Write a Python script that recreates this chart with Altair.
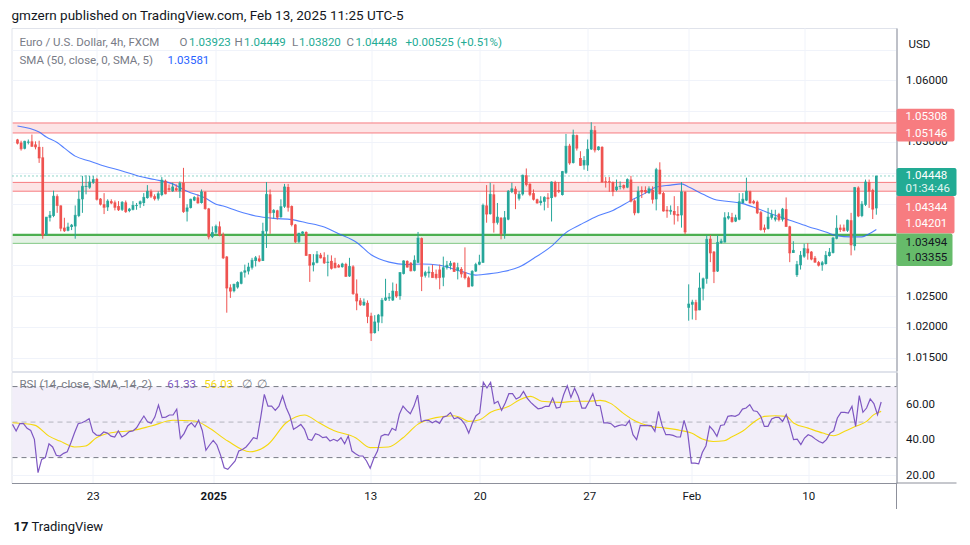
import altair as alt
import pandas as pd

# ---------------- data (EUR/USD 4h candles) ----------------
opens = [1.0504, 1.0499, 1.0489, 1.0499, 1.0501, 1.0496, 1.0492, 1.0475, 1.0349, 1.0377,
         1.0380, 1.0412, 1.0397, 1.0361, 1.0356, 1.0362, 1.0363, 1.0380, 1.0407, 1.0427,
         1.0426, 1.0434, 1.0440, 1.0408, 1.0399, 1.0394, 1.0404, 1.0402, 1.0396, 1.0390,
         1.0402, 1.0388, 1.0390, 1.0396, 1.0399, 1.0401, 1.0409, 1.0420, 1.0412, 1.0408,
         1.0414, 1.0437, 1.0425, 1.0420, 1.0425, 1.0420, 1.0434, 1.0387, 1.0393, 1.0405,
         1.0410, 1.0401, 1.0419, 1.0392, 1.0346, 1.0353, 1.0363, 1.0350, 1.0314, 1.0264,
         1.0258, 1.0264, 1.0270, 1.0288, 1.0290, 1.0296, 1.0307, 1.0311, 1.0307, 1.0355,
         1.0415, 1.0385, 1.0389, 1.0378, 1.0395, 1.0427, 1.0396, 1.0366, 1.0338, 1.0351,
         1.0354, 1.0318, 1.0300, 1.0304, 1.0317, 1.0313, 1.0304, 1.0307, 1.0304, 1.0300,
         1.0297, 1.0302, 1.0282, 1.0298, 1.0254, 1.0243, 1.0235, 1.0239, 1.0218, 1.0190,
         1.0207, 1.0217, 1.0243, 1.0246, 1.0243, 1.0258, 1.0250, 1.0286, 1.0307, 1.0304,
         1.0291, 1.0304, 1.0344, 1.0283, 1.0287, 1.0289, 1.0286, 1.0293, 1.0280, 1.0296,
         1.0299, 1.0304, 1.0291, 1.0294, 1.0289, 1.0280, 1.0266, 1.0290, 1.0301, 1.0304,
         1.0397, 1.0383, 1.0415, 1.0369, 1.0377, 1.0351, 1.0374, 1.0419, 1.0424, 1.0408,
         1.0415, 1.0446, 1.0432, 1.0417, 1.0407, 1.0401, 1.0403, 1.0410, 1.0409, 1.0435,
         1.0422, 1.0414, 1.0450, 1.0494, 1.0466, 1.0511, 1.0474, 1.0462, 1.0462, 1.0488,
         1.0519, 1.0487, 1.0492, 1.0436, 1.0436, 1.0435, 1.0422, 1.0427, 1.0430, 1.0426,
         1.0439, 1.0405, 1.0385, 1.0422, 1.0422, 1.0417, 1.0422, 1.0407, 1.0455, 1.0417,
         1.0390, 1.0387, 1.0388, 1.0383, 1.0381, 1.0419, 1.0231, 1.0236, 1.0240, 1.0227,
         1.0262, 1.0278, 1.0343, 1.0322, 1.0290, 1.0336, 1.0337, 1.0376, 1.0378, 1.0371,
         1.0374, 1.0401, 1.0405, 1.0420, 1.0404, 1.0403, 1.0386, 1.0361, 1.0359, 1.0377,
         1.0374, 1.0383, 1.0374, 1.0391, 1.0363, 1.0320, 1.0284, 1.0300, 1.0314, 1.0327,
         1.0322, 1.0312, 1.0305, 1.0300, 1.0302, 1.0315, 1.0320, 1.0343, 1.0361, 1.0361,
         1.0356, 1.0373, 1.0331, 1.0426, 1.0380, 1.0398, 1.0435, 1.0422, 1.03923]

highs = [1.0505, 1.0502, 1.0502, 1.0504, 1.0512, 1.0501, 1.0502, 1.0492, 1.0378, 1.0388,
         1.0421, 1.0415, 1.0397, 1.0377, 1.0369, 1.0367, 1.0397, 1.0421, 1.0445, 1.0446,
         1.0445, 1.0445, 1.0442, 1.0409, 1.0417, 1.0407, 1.0407, 1.0405, 1.0404, 1.0404,
         1.0405, 1.0393, 1.0404, 1.0401, 1.0405, 1.0417, 1.0430, 1.0423, 1.0415, 1.0420,
         1.0443, 1.0439, 1.0431, 1.0434, 1.0431, 1.0436, 1.0458, 1.0399, 1.0408, 1.0412,
         1.0415, 1.0423, 1.0420, 1.0393, 1.0363, 1.0366, 1.0371, 1.0353, 1.0315, 1.0269,
         1.0270, 1.0274, 1.0290, 1.0301, 1.0304, 1.0312, 1.0315, 1.0316, 1.0369, 1.0435,
         1.0423, 1.0391, 1.0390, 1.0407, 1.0432, 1.0432, 1.0397, 1.0367, 1.0352, 1.0355,
         1.0355, 1.0318, 1.0318, 1.0323, 1.0320, 1.0321, 1.0317, 1.0316, 1.0312, 1.0302,
         1.0304, 1.0304, 1.0312, 1.0300, 1.0277, 1.0247, 1.0246, 1.0243, 1.0223, 1.0219,
         1.0221, 1.0247, 1.0278, 1.0255, 1.0272, 1.0270, 1.0289, 1.0308, 1.0308, 1.0305,
         1.0316, 1.0354, 1.0345, 1.0291, 1.0298, 1.0301, 1.0293, 1.0301, 1.0314, 1.0307,
         1.0307, 1.0305, 1.0304, 1.0297, 1.0329, 1.0282, 1.0292, 1.0304, 1.0317, 1.0400,
         1.0430, 1.0434, 1.0431, 1.0401, 1.0378, 1.0388, 1.0422, 1.0434, 1.0428, 1.0420,
         1.0447, 1.0457, 1.0433, 1.0423, 1.0408, 1.0412, 1.0412, 1.0417, 1.0436, 1.0437,
         1.0435, 1.0453, 1.0513, 1.0497, 1.0520, 1.0512, 1.0485, 1.0477, 1.0504, 1.0532,
         1.0526, 1.0493, 1.0493, 1.0443, 1.0443, 1.0436, 1.0439, 1.0436, 1.0431, 1.0441,
         1.0445, 1.0407, 1.0428, 1.0428, 1.0428, 1.0428, 1.0428, 1.0458, 1.0467, 1.0419,
         1.0396, 1.0397, 1.0412, 1.0396, 1.0435, 1.0420, 1.0269, 1.0244, 1.0244, 1.0288,
         1.0280, 1.0349, 1.0349, 1.0323, 1.0349, 1.0343, 1.0386, 1.0386, 1.0385, 1.0382,
         1.0417, 1.0417, 1.0442, 1.0421, 1.0406, 1.0405, 1.0388, 1.0366, 1.0393, 1.0390,
         1.0390, 1.0385, 1.0393, 1.0410, 1.0364, 1.0339, 1.0307, 1.0323, 1.0335, 1.0336,
         1.0323, 1.0315, 1.0307, 1.0307, 1.0323, 1.0328, 1.0346, 1.0381, 1.0366, 1.0366,
         1.0374, 1.0385, 1.0427, 1.0428, 1.0404, 1.0439, 1.0439, 1.0424, 1.04449]

lows = [1.0496, 1.0486, 1.0488, 1.0496, 1.0492, 1.0488, 1.0466, 1.0343, 1.0348, 1.0371,
        1.0378, 1.0385, 1.0355, 1.0354, 1.0355, 1.0357, 1.0343, 1.0378, 1.0385, 1.0415,
        1.0424, 1.0432, 1.0405, 1.0397, 1.0383, 1.0388, 1.0399, 1.0389, 1.0388, 1.0388,
        1.0385, 1.0386, 1.0389, 1.0390, 1.0393, 1.0396, 1.0408, 1.0409, 1.0405, 1.0405,
        1.0412, 1.0415, 1.0419, 1.0419, 1.0420, 1.0409, 1.0385, 1.0371, 1.0392, 1.0404,
        1.0400, 1.0400, 1.0390, 1.0342, 1.0344, 1.0351, 1.0347, 1.0310, 1.0223, 1.0247,
        1.0256, 1.0262, 1.0269, 1.0280, 1.0285, 1.0293, 1.0298, 1.0305, 1.0307, 1.0328,
        1.0351, 1.0376, 1.0374, 1.0377, 1.0393, 1.0387, 1.0363, 1.0336, 1.0336, 1.0350,
        1.0315, 1.0273, 1.0290, 1.0303, 1.0311, 1.0302, 1.0282, 1.0293, 1.0295, 1.0296,
        1.0296, 1.0281, 1.0281, 1.0252, 1.0227, 1.0234, 1.0234, 1.0206, 1.0177, 1.0189,
        1.0193, 1.0206, 1.0242, 1.0242, 1.0242, 1.0247, 1.0244, 1.0285, 1.0296, 1.0290,
        1.0290, 1.0304, 1.0258, 1.0280, 1.0280, 1.0280, 1.0277, 1.0261, 1.0266, 1.0293,
        1.0293, 1.0289, 1.0277, 1.0280, 1.0277, 1.0265, 1.0265, 1.0289, 1.0300, 1.0304,
        1.0369, 1.0382, 1.0353, 1.0366, 1.0342, 1.0343, 1.0373, 1.0417, 1.0391, 1.0405,
        1.0413, 1.0428, 1.0412, 1.0405, 1.0400, 1.0397, 1.0389, 1.0393, 1.0371, 1.0410,
        1.0417, 1.0413, 1.0448, 1.0463, 1.0465, 1.0486, 1.0461, 1.0455, 1.0453, 1.0487,
        1.0483, 1.0486, 1.0434, 1.0426, 1.0419, 1.0412, 1.0420, 1.0423, 1.0423, 1.0425,
        1.0402, 1.0381, 1.0384, 1.0409, 1.0416, 1.0416, 1.0400, 1.0389, 1.0415, 1.0387,
        1.0377, 1.0382, 1.0366, 1.0371, 1.0361, 1.0350, 1.0210, 1.0212, 1.0211, 1.0227,
        1.0243, 1.0270, 1.0305, 1.0271, 1.0289, 1.0335, 1.0337, 1.0374, 1.0369, 1.0370,
        1.0373, 1.0400, 1.0404, 1.0400, 1.0399, 1.0383, 1.0356, 1.0353, 1.0358, 1.0374,
        1.0371, 1.0371, 1.0371, 1.0362, 1.0305, 1.0320, 1.0281, 1.0293, 1.0312, 1.0309,
        1.0308, 1.0304, 1.0298, 1.0291, 1.0301, 1.0314, 1.0319, 1.0342, 1.0354, 1.0355,
        1.0354, 1.0316, 1.0324, 1.0378, 1.0378, 1.0396, 1.0393, 1.0375, 1.03820]

closes = [1.0498, 1.0489, 1.0501, 1.0500, 1.0493, 1.0492, 1.0474, 1.0349, 1.0378, 1.0381,
          1.0412, 1.0397, 1.0360, 1.0356, 1.0362, 1.0365, 1.0381, 1.0407, 1.0428, 1.0428,
          1.0435, 1.0439, 1.0407, 1.0399, 1.0394, 1.0404, 1.0401, 1.0394, 1.0390, 1.0402,
          1.0387, 1.0391, 1.0397, 1.0397, 1.0403, 1.0410, 1.0420, 1.0412, 1.0408, 1.0416,
          1.0438, 1.0416, 1.0423, 1.0427, 1.0422, 1.0433, 1.0387, 1.0393, 1.0407, 1.0410,
          1.0401, 1.0419, 1.0392, 1.0346, 1.0353, 1.0363, 1.0349, 1.0312, 1.0263, 1.0258,
          1.0269, 1.0272, 1.0288, 1.0291, 1.0297, 1.0308, 1.0312, 1.0307, 1.0355, 1.0415,
          1.0385, 1.0389, 1.0378, 1.0395, 1.0427, 1.0394, 1.0366, 1.0338, 1.0352, 1.0354,
          1.0316, 1.0300, 1.0304, 1.0317, 1.0312, 1.0304, 1.0305, 1.0295, 1.0296, 1.0297,
          1.0302, 1.0282, 1.0298, 1.0254, 1.0242, 1.0236, 1.0240, 1.0217, 1.0190, 1.0208,
          1.0219, 1.0243, 1.0247, 1.0248, 1.0258, 1.0250, 1.0288, 1.0307, 1.0297, 1.0291,
          1.0308, 1.0344, 1.0282, 1.0288, 1.0289, 1.0280, 1.0280, 1.0280, 1.0296, 1.0300,
          1.0303, 1.0290, 1.0296, 1.0286, 1.0280, 1.0265, 1.0290, 1.0301, 1.0305, 1.0397,
          1.0383, 1.0415, 1.0369, 1.0378, 1.0351, 1.0377, 1.0420, 1.0424, 1.0416, 1.0415,
          1.0446, 1.0431, 1.0415, 1.0407, 1.0401, 1.0404, 1.0410, 1.0408, 1.0435, 1.0412,
          1.0420, 1.0452, 1.0493, 1.0466, 1.0511, 1.0490, 1.0462, 1.0470, 1.0488, 1.0519,
          1.0487, 1.0492, 1.0435, 1.0435, 1.0435, 1.0420, 1.0427, 1.0428, 1.0426, 1.0439,
          1.0404, 1.0385, 1.0420, 1.0419, 1.0419, 1.0424, 1.0407, 1.0455, 1.0416, 1.0388,
          1.0388, 1.0389, 1.0382, 1.0381, 1.0419, 1.0354, 1.0237, 1.0240, 1.0227, 1.0263,
          1.0278, 1.0342, 1.0320, 1.0290, 1.0337, 1.0339, 1.0377, 1.0379, 1.0371, 1.0377,
          1.0403, 1.0407, 1.0420, 1.0401, 1.0401, 1.0385, 1.0358, 1.0358, 1.0378, 1.0382,
          1.0377, 1.0374, 1.0391, 1.0363, 1.0320, 1.0324, 1.0301, 1.0316, 1.0327, 1.0320,
          1.0310, 1.0305, 1.0300, 1.0304, 1.0316, 1.0321, 1.0344, 1.0360, 1.0358, 1.0356,
          1.0373, 1.0333, 1.0426, 1.0380, 1.0399, 1.0435, 1.0420, 1.0391, 1.04448]

rsi_values = [48.7, 45, 49.1, 49.1, 46.5, 45.3, 40.3, 21.5, 29, 30,
              37.8, 36, 31.3, 30.9, 32.4, 33.3, 38.4, 44, 49.1, 49.6,
              50.6, 51.9, 44.4, 42.7, 42.5, 44.4, 43.8, 42.1, 41.6, 45,
              41.6, 42.7, 44.6, 45, 46.8, 50.2, 53.4, 50.2, 49.3, 52.8,
              59.6, 52.5, 52.8, 54, 54, 57.2, 40.8, 43.5, 47.8, 49.6,
              47.2, 51, 45.3, 34.1, 37.1, 39.7, 37.1, 31.4, 24.3, 23.4,
              25.8, 28.1, 33.7, 34.6, 36, 38.4, 41.2, 40.6, 52.5, 65.6,
              59, 59, 56.6, 59, 64.7, 58.1, 53.4, 45.9, 47.2, 48.7,
              45.9, 40.3, 39.7, 43.5, 42.7, 41.2, 41.6, 39.3, 40.3, 39.3,
              41.2, 37.8, 42.1, 33.7, 32.2, 30.9, 30.9, 28.1, 24, 29.6,
              33.7, 42.1, 43.1, 42.7, 46.5, 45.3, 54.4, 59, 56.6, 54.7,
              59, 65.2, 50.2, 51, 51, 49.6, 50.6, 49.3, 52.8, 53.4,
              55.3, 51.9, 52.6, 51.3, 48.5, 43.8, 49.5, 53.6, 55.1, 72.4,
              69.2, 72.4, 60.4, 61.7, 56.6, 60.7, 66, 66, 63, 64.1,
              67.3, 63.5, 61.1, 59.2, 57.5, 57.9, 58.9, 58.9, 63.5, 57.9,
              58.3, 65.4, 70.5, 63.9, 69, 64.5, 57.9, 57.9, 61.7, 66,
              59.4, 59.2, 49.5, 49.5, 49.1, 47.2, 48, 48.5, 48, 50.8,
              42.9, 40.1, 48.1, 48, 48.1, 48, 44.8, 56, 48, 42.9,
              42.9, 42.5, 41.6, 41.6, 51, 43.8, 26.9, 26.9, 26.5, 32.9,
              36.7, 47.6, 45.3, 42, 48.1, 48.5, 53.2, 53.6, 53.2, 54.2,
              57.3, 57.9, 59.8, 56.4, 56, 53.2, 47.6, 47.6, 51.7, 52.6,
              52.6, 50.4, 54.2, 47.6, 40.1, 40.4, 37.3, 41, 42.9, 42,
              40.4, 39.1, 38.2, 40.1, 43.8, 45.1, 52.3, 55.5, 55.5, 55.1,
              58.9, 47.6, 64.9, 55.5, 57.9, 63, 60.4, 54.2, 61.33]

rsi_ma_bar = [1, 7, 11, 14, 18, 21, 24, 28, 34, 39, 45, 51, 55, 60, 66, 71, 76, 81, 85, 89,
              95, 99, 104, 108, 112, 117, 122, 124, 126, 129, 132, 137, 140, 143, 146, 151,
              155, 159, 162, 165, 168, 171, 176, 180, 184, 187, 190, 193, 196, 198, 201, 204,
              207, 210, 213, 215, 219, 223, 226, 229, 232, 235, 237, 239]
rsi_ma_values = [49.6, 48.3, 42.1, 39.3, 36, 36.5, 41.2, 44, 45.3, 47.8, 51, 50.6, 46.5, 39.3,
                 33.3, 37.4, 49.6, 54, 49.6, 45.3, 41.2, 35.6, 36, 41.2, 48.7, 52.5, 53.6, 52.3,
                 50.4, 51.3, 55.5, 58.9, 62.6, 64.5, 61.7, 61.1, 61.7, 61.7, 62.2, 60.4, 55.5,
                 51.3, 47.6, 46.6, 45.3, 43.8, 40.5, 39.1, 39.5, 41.6, 44.8, 49.8, 53.2, 53.6,
                 53.2, 49.5, 46.6, 43.8, 42.3, 44.8, 47.6, 50.4, 54.2, 56.03]

sma_bar = [1, 7, 9, 12, 14, 17, 21, 25, 30, 35, 39, 44, 48, 53, 56, 58, 62, 67, 72, 77,
           81, 86, 90, 95, 99, 104, 109, 113, 118, 124, 128, 130, 135, 140, 144, 149, 153,
           157, 161, 166, 171, 175, 178, 182, 185, 187, 191, 194, 202, 206, 211, 215, 220,
           225, 228, 232, 235, 237, 239]
sma_values = [1.0526, 1.0516, 1.0508, 1.0499, 1.0490, 1.0477, 1.0469, 1.0461, 1.0453, 1.0444,
              1.0439, 1.0432, 1.0420, 1.0409, 1.0399, 1.0396, 1.0388, 1.0380, 1.0376, 1.0374,
              1.0369, 1.0362, 1.0351, 1.0337, 1.0317, 1.0305, 1.0301, 1.0302, 1.0300, 1.0290,
              1.0284, 1.0285, 1.0289, 1.0297, 1.0311, 1.0331, 1.0353, 1.0366, 1.0378, 1.0389,
              1.0405, 1.0417, 1.0427, 1.0430, 1.0432, 1.0427, 1.0415, 1.0407, 1.0400, 1.0392,
              1.0381, 1.0373, 1.0363, 1.0354, 1.0348, 1.0346, 1.0346, 1.0351, 1.03581]

date_ticks = [23, 56, 99, 129, 159, 187, 219]
date_labels = ["23", "2025", "13", "20", "27", "Feb", "10"]
price_ticks = [1.015, 1.020, 1.025, 1.030, 1.035, 1.040, 1.045, 1.050, 1.055, 1.060, 1.065]
hidden_price_labels = [1.030, 1.035, 1.040, 1.045, 1.055, 1.065]  # under the price badges / top edge
rsi_ticks = [20, 40, 60]
rsi_levels = [70, 50, 30]
zone_lo = [1.05146, 1.04201, 1.03355]
zone_hi = [1.05308, 1.04344, 1.03494]
last_price = 1.04448

for arr in (opens, highs, lows, closes, rsi_values):
    assert len(arr) == 239, len(arr)

# ---------------- style ----------------
FONT = "Roboto"
UP, DN = "#26a69a", "#ef5350"
GRID = "#f0f3fa"
AXC = "#8d909b"
TXT = "#131722"
GRAY = "#787b86"
TEAL = "#22ab94"
W, H1, H2 = 885, 343, 111
XDOM = [0.73, 243.2]
PDOM = [1.01284, 1.06849]
RDOM = [15.7, 78.2]

candles = pd.DataFrame({"i": list(range(1, 240)), "open": opens, "high": highs,
                        "low": lows, "close": closes})
candles["dir"] = ["up" if c >= o else "down" for o, c in zip(opens, closes)]
sma_df = pd.DataFrame({"i": sma_bar, "v": sma_values})
rsi_df = pd.DataFrame({"i": list(range(1, 240)), "v": rsi_values})
rsima_df = pd.DataFrame({"i": rsi_ma_bar, "v": rsi_ma_values})
one = pd.DataFrame({"k": [0]})

xs = alt.Scale(domain=XDOM, nice=False, zero=False)
ps = alt.Scale(domain=PDOM, nice=False, zero=False)
rs = alt.Scale(domain=RDOM, nice=False, zero=False)

x_axis_top = alt.Axis(values=date_ticks, labels=False, ticks=False, domain=False,
                      grid=True, gridColor=GRID, title=None)
label_expr = " : ".join(f"datum.value == {v} ? '{t}'" for v, t in zip(date_ticks, date_labels)) + " : ''"
x_axis_bot = alt.Axis(values=date_ticks, labelExpr=label_expr, ticks=False, tickSize=0,
                      domain=True, domainColor=AXC, grid=True, gridColor=GRID,
                      labelPadding=13, labelBaseline="middle", labelFontSize=11.5,
                      labelColor=TXT, labelFont=FONT, labelFlush=False, labelOverlap=False,
                      labelFontWeight={"condition": {"test": "datum.value == 56", "value": "bold"},
                                       "value": "normal"},
                      title=None)
hide_test = " || ".join(f"abs(datum.value - {v}) < 0.0001" for v in hidden_price_labels)
p_axis = alt.Axis(orient="right", values=price_ticks,
                  labelExpr=f"({hide_test}) ? '' : format(datum.value, '.5f')",
                  grid=True, gridColor=GRID, ticks=False, tickSize=0, domain=True,
                  domainColor=AXC, labelAlign="left", labelPadding=9, labelFontSize=11.5,
                  labelColor=TXT, labelFont=FONT, labelOverlap=False, title=None, zindex=0)
r_axis = alt.Axis(orient="right", values=rsi_ticks, format=".2f", grid=True, gridColor=GRID,
                  ticks=False, tickSize=0, domain=True, domainColor=AXC, labelAlign="left",
                  labelPadding=9, labelFontSize=11.5, labelColor=TXT, labelFont=FONT,
                  labelOverlap=False, title=None, zindex=0)


def XT(f="i"):
    return alt.X(f"{f}:Q", scale=xs, axis=x_axis_top)


def XB(f="i"):
    return alt.X(f"{f}:Q", scale=xs, axis=x_axis_bot)


def YP(f):
    return alt.Y(f"{f}:Q", scale=ps, axis=p_axis)


def YR(f):
    return alt.Y(f"{f}:Q", scale=rs, axis=r_axis)


def label(text, x, y, color, size=11.5, weight="normal", align="left", font=FONT):
    return alt.Chart(one).mark_text(text=text, align=align, baseline="middle", font=font,
                                    fontSize=size, fontWeight=weight, color=color).encode(
        x=alt.value(x), y=alt.value(y))


# ---------------- main pane ----------------
zone_df = pd.DataFrame({"lo": zone_lo, "hi": zone_hi,
                        "fill": ["#fde4e5", "#fde4e5", "#e4f2e5"]})
zones = alt.Chart(zone_df).mark_rect().encode(
    x=alt.value(1), x2=alt.value(W), y=YP("lo"), y2="hi:Q",
    color=alt.Color("fill:N", scale=None))

zl_df = pd.DataFrame({"v": zone_hi + zone_lo,
                      "c": ["#f77c80", "#f77c80", "#4caf50", "#f77c80", "#f77c80", "#81c784"],
                      "w": [1, 1, 2.2, 1, 1, 1]})
zone_lines = alt.Chart(zl_df).mark_rule().encode(
    x=alt.value(1.2), x2=alt.value(W), y=YP("v"),
    color=alt.Color("c:N", scale=None), strokeWidth=alt.StrokeWidth("w:Q", scale=None))

price_line = alt.Chart(pd.DataFrame({"v": [last_price]})).mark_rule(
    color=TEAL, strokeDash=[1, 3], strokeWidth=1).encode(
    x=alt.value(1), x2=alt.value(W), y=YP("v"))

sma_line = alt.Chart(sma_df).mark_line(color="#2962ff", strokeWidth=1.1, opacity=0.8,
                                       interpolate="monotone").encode(x=XT(), y=YP("v"))

col = alt.Color("dir:N", scale=alt.Scale(domain=["up", "down"], range=[UP, DN]), legend=None)
base = alt.Chart(candles)
wicks = base.mark_rule(strokeWidth=1).encode(x=XT(), y=YP("low"), y2="high:Q", color=col)
bodies = base.mark_bar(size=2.7).encode(x=XT(), y=YP("open"), y2="close:Q", color=col)
dojis = base.mark_tick(orient="horizontal", size=2.7, thickness=1).encode(
    x=XT(), y=YP("close"), color=col)

layers = [zones, zone_lines, price_line, sma_line, wicks, bodies, dojis]

# price badges on the scale
badges = [  # (top, bottom, fill, right)
    (80.7, 113.5, "#f77c80", 943),
    (140.0, 168.0, TEAL, 945),
    (168.0, 205.5, "#f77c80", 943),
    (205.5, 238.0, "#66bb6a", 941),
]
for top, bot, fill, right in badges:
    layers.append(alt.Chart(one).mark_rect(color=fill, cornerRadius=2).encode(
        x=alt.value(885), x2=alt.value(right), y=alt.value(top), y2=alt.value(bot)))
badge_texts = [("1.05308", 89, "white"), ("1.05146", 105.5, "white"),
               ("1.04448", 147.5, "white"), ("01:34:46", 161, "#e0f5f1"),
               ("1.04344", 179.5, "white"), ("1.04201", 196, "white"),
               ("1.03494", 215, TXT), ("1.03355", 230, TXT)]
for t, y, c in badge_texts:
    layers.append(label(t, 894, y, c))

layers.append(label("USD", 897, 17, TXT))
layers.append(alt.Chart(one).mark_text(
    text="gmzern published on TradingView.com, Feb 13, 2025 11:25 UTC-5", align="left",
    baseline="top", font=FONT, fontSize=13.5, color=TXT).encode(x=alt.value(0), y=alt.value(-19)))

legend1 = [("Euro / U.S. Dollar, 4h, FXCM", 8, GRAY), ("O", 168, GRAY), ("1.03923", 177.5, TEAL),
           ("H", 223, GRAY), ("1.04449", 232.5, TEAL), ("L", 280.5, GRAY), ("1.03820", 287.5, TEAL),
           ("C", 335, GRAY), ("1.04448", 344, TEAL), ("+0.00525 (+0.51%)", 394, TEAL)]
for t, x, c in legend1:
    layers.append(label(t, x, 15, c))
layers.append(label("SMA (50, close, 0, SMA, 5)", 8, 33, GRAY))
layers.append(label("1.03581", 156, 33, "#2962ff"))

top = alt.layer(*layers).properties(width=W, height=H1)

# ---------------- RSI pane ----------------
band = alt.Chart(pd.DataFrame({"lo": [30], "hi": [70]})).mark_rect(color="#f2eef9").encode(
    x=alt.value(1), x2=alt.value(W), y=YR("lo"), y2="hi:Q")
rsi_legend = [label("RSI (14, close, SMA, 14, 2)", 8, 13, GRAY),
              label("61.33", 155.7, 13, "#7e57c2"),
              label("56.03", 192.7, 13, "#f5d80f"),
              label("∅", 230, 13, GRAY), label("∅", 245, 13, GRAY)]
lev_df = pd.DataFrame({"v": rsi_levels, "o": [1.0, 0.5, 1.0]})
levels = alt.Chart(lev_df).mark_rule(color=GRAY, strokeDash=[5, 4], strokeWidth=1).encode(
    x=alt.value(1), x2=alt.value(W), y=YR("v"), opacity=alt.Opacity("o:Q", scale=None))
rsi_line = alt.Chart(rsi_df).mark_line(color="#7e57c2", strokeWidth=1.2).encode(x=XB(), y=YR("v"))
rsi_ma = alt.Chart(rsima_df).mark_line(color="#f5d80f", strokeWidth=1.1,
                                       interpolate="monotone").encode(x=XB(), y=YR("v"))
# time-scale frame pieces continuing past the plot
frame_v = alt.Chart(one).mark_rule(color=AXC).encode(
    x=alt.value(W), y=alt.value(H2), y2=alt.value(H2 + 26))
frame_h = alt.Chart(one).mark_rule(color=AXC).encode(
    x=alt.value(W), x2=alt.value(W + 60), y=alt.value(H2))
logo_icon = label("17", 2, 155, TXT, size=13, weight="bold")
logo_text = label("TradingView", 20, 155, TXT, size=13)

bot = alt.layer(band, *rsi_legend, levels, rsi_ma, rsi_line, frame_v, frame_h,
                logo_icon, logo_text).properties(width=W, height=H2)

chart = alt.vconcat(top, bot, spacing=1, bounds="flush").properties(
    padding={"left": 1.5, "top": 0, "right": 0, "bottom": 0},
    background="white",
).configure_view(stroke="#e0e3eb", strokeWidth=1)

chart.save("out.html", embed_options={"renderer": "svg", "actions": False})
